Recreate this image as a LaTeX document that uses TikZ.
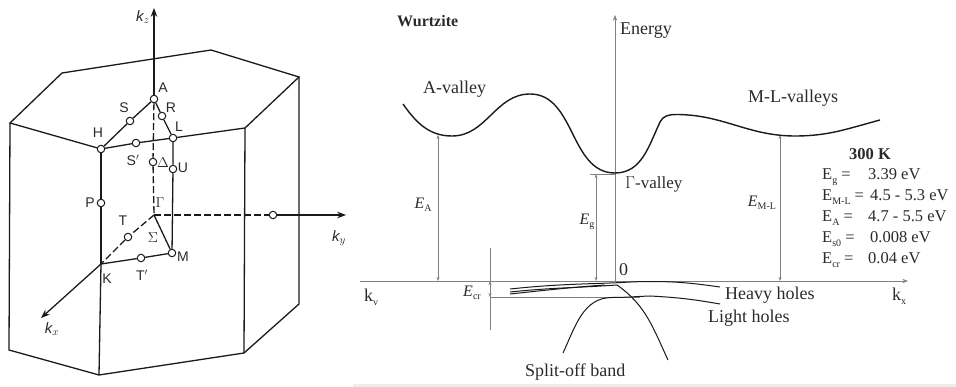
\documentclass[tikz,border=0pt]{standalone}
\usepackage{fontspec}
\setmainfont{Liberation Serif}
\newfontfamily\labelfont{Liberation Sans}
\usetikzlibrary{arrows.meta}
\definecolor{inkline}{HTML}{1A1A1A}
\definecolor{thinline}{HTML}{808080}
\definecolor{softtext}{HTML}{2A2A2A}
\definecolor{strip}{HTML}{EDEDED}
\newcommand{\low}[1]{\raisebox{-0.2em}{\upshape\fontsize{10}{10}\selectfont #1}}

\begin{document}
\begin{tikzpicture}[
    x=1pt,y=-1pt,
    edge/.style={draw=inkline,line width=1.3pt},
    axis/.style={edge,-Stealth},
    hidden/.style={edge,dashed,dash pattern=on 7pt off 3pt},
    pt/.style={circle,draw=inkline,line width=1pt,minimum size=7.5pt,inner sep=0pt},
    lab/.style={font=\labelfont\fontsize{14}{16}\selectfont,text=softtext,inner sep=0pt},
    klab/.style={font=\labelfont\itshape\fontsize{15}{17}\selectfont,text=softtext,inner sep=0pt},
    txt/.style={font=\fontsize{18}{20}\selectfont,text=softtext,inner sep=0pt},
    gap/.style={font=\itshape\fontsize{16}{18}\selectfont,text=softtext,inner sep=0pt},
    vals/.style={font=\fontsize{16.5}{18}\selectfont,text=softtext,inner sep=0pt,anchor=base west},
    band/.style={draw=inkline,line width=1.4pt},
    vband/.style={draw=inkline,line width=1pt},
    thin/.style={draw=thinline,line width=0.6pt},
    dim/.style={thin,{Stealth[length=4pt,width=3pt]}-{Stealth[length=4pt,width=3pt]}}
  ]
    \useasboundingbox (0,0) rectangle (956,387);
    \fill[strip] (353,384) rectangle (956,387);

    % hexagonal prism
    \coordinate (t1) at (62,73);
    \coordinate (t2) at (211,50);
    \coordinate (t3) at (299,77);
    \coordinate (t4) at (245,128);
    \coordinate (t6) at (10,123);
    \coordinate (b1) at (9,350);
    \coordinate (b2) at (99,375);
    \coordinate (b3) at (244,353);
    \coordinate (b4) at (299,304);

    % symmetry points
    \node[pt] (A) at (154,99) {};
    \node[pt] (S) at (130,121) {};
    \node[pt] (R) at (162,116) {};
    \node[pt] (L) at (173,138) {};
    \node[pt] (H) at (101,149) {};
    \node[pt] (Sp) at (136,143) {};
    \node[pt] (D) at (153,162) {};
    \node[pt] (U) at (173,169) {};
    \node[pt] (P) at (101,203) {};
    \node[pt] (T) at (128,237) {};
    \node[pt] (Tp) at (141,258) {};
    \node[pt] (M) at (172,253) {};
    \node[pt] (Y) at (273,215) {};
    \coordinate (G) at (154,215);
    \coordinate (K) at (101,264);
    \coordinate (kzend) at (154,8);
    \coordinate (kyend) at (346,215);
    \coordinate (kxend) at (41,318);

    \draw[edge] (H) -- (t6) -- (t1) -- (t2) -- (t3) -- (t4) -- (L);
    \draw[edge] (t6) -- (b1) -- (b2) -- (b3) -- (b4) -- (t3);
    \draw[edge] (t4) -- (b3);
    \draw[edge] (K) -- (b2);
    \draw[edge] (H) -- (P) -- (K);
    \draw[edge] (H) -- (S) -- (A) -- (R) -- (L) -- (U) -- (M);
    \draw[edge] (H) -- (Sp) -- (L);
    \draw[edge] (K) -- (Tp) -- (M) -- (G);
    \draw[hidden] (A) -- (D) -- (G);
    \draw[hidden] (G) -- (T) -- (K);
    \draw[hidden] (G) -- (Y);
    \draw[axis] (A) -- (kzend);
    \draw[axis] (Y) -- (kyend);
    \draw[axis] (K) -- (kxend);

    \node[klab] (kzlab) at (143,17) {k$_{z}$};
    \node[klab] (kylab) at (339,238) {k$_{y}$};
    \node[klab] (kxlab) at (52,329) {k$_{x}$};
    \node[lab] (Alab) at (163,88) {A};
    \node[lab] (Slab) at (124,108) {S};
    \node[lab] (Rlab) at (171,108) {R};
    \node[lab] (Llab) at (179,127) {L};
    \node[lab] (Hlab) at (98,133) {H};
    \node[lab] (Splab) at (133,160) {S$'$};
    \node[lab] (Dlab) at (163,163) {$\Delta$};
    \node[lab] (Ulab) at (183,168) {U};
    \node[lab] (Plab) at (90,203) {P};
    \node[lab] (Glab) at (160,203) {$\Gamma$};
    \node[lab] (Tlab) at (123,221) {T};
    \node[lab] (Xlab) at (153,238) {$\Sigma$};
    \node[lab] (Mlab) at (183,257) {M};
    \node[lab] (Klab) at (107,279) {K};
    \node[lab] (Tplab) at (142,275) {T$'$};

    % band diagram
    \coordinate (Amin) at (438,135);
    \coordinate (Gmin) at (596,174);
    \coordinate (Mmin) at (780,135);
    \coordinate (Abase) at (438,281);
    \coordinate (Gbase) at (596,281);
    \coordinate (Mbase) at (780,281);
    \coordinate (Gtick) at (590,174);
    \coordinate (Gzero) at (615,174);
    \coordinate (crtop) at (490,248);
    \coordinate (crbot) at (490,330);
    \coordinate (crup) at (490,281);
    \coordinate (crlow) at (490,297);
    \coordinate (crend) at (640,297);
    \coordinate (axl) at (360,281);
    \coordinate (axr) at (908,281);
    \coordinate (ent) at (615,281);
    \coordinate (enb) at (615,15);

    \draw[thin,-Stealth] (axl) -- (axr);
    \draw[thin,-Stealth] (ent) -- (enb);
    \draw[dim] (Amin) -- (Abase);
    \draw[dim] (Gmin) -- (Gbase);
    \draw[dim] (Mmin) -- (Mbase);
    \draw[thin] (Gtick) -- (Gzero);
    \draw[thin] (crtop) -- (crbot);
    \draw[thin] (crlow) -- (crend);
    \draw[dim] (crup) -- (crlow);

    \draw[band] (403,104) to[out=-55,in=180] (452,136) to[out=0,in=180] (530,94)
      to[out=0,in=180] (615,173) to[out=0,in=-115] (660,122) to[out=65,in=180] (676,114.5)
      to[out=0,in=180] (795,136) to[out=0,in=195] (880,120);
    % valence bands
    \draw[vband] (510,289) to[out=6,in=182] (610,283) to[out=2,in=180] (650,281.5) to[out=0,in=172] (720,287);
    \draw[vband] (510,292) to[out=6,in=184] (617,285) to[out=-35,in=115] (668,360);
    \draw[vband] (510,294) to[out=6,in=184] (605,285);
    \draw[vband] (563,353) to[out=65,in=180] (612,297.5) to[out=0,in=182] (650,296) to[out=-3,in=170] (720,304);

    \node[anchor=base west,font=\bfseries\fontsize{16}{18}\selectfont,text=softtext,inner sep=0pt] (wz) at (397,27) {Wurtzite};
    \node[txt,anchor=base west] (energy) at (620,35) {Energy};
    \node[txt,anchor=base west] (avalley) at (423,94) {A-valley};
    \node[txt,anchor=base west] (mlvalley) at (748,103) {M-L-valleys};
    \node[txt,anchor=base west,font=\fontsize{17}{19}\selectfont] (gvalley) at (625,189) {$\Gamma$-valley};
    \node[txt,anchor=base west] (zero) at (619,276) {0};
    \node[txt,anchor=base west] (heavy) at (725,300) {Heavy holes};
    \node[txt,anchor=base west] (light) at (708,323) {Light holes};
    \node[txt,anchor=base west] (splitoff) at (525,376) {Split-off band};
    \node[txt,anchor=base west] (kleft) at (364,302) {k\low{v}};
    \node[txt,anchor=base west] (kright) at (892,301) {k\low{x}};
    \node[gap] (EAlab) at (423,205) {E\low{A}};
    \node[gap] (Eglab) at (587,222) {E\low{g}};
    \node[gap] (EMLlab) at (762,203) {E\low{M-L}};
    \node[gap] (Ecrlab) at (472,293) {E\low{cr}};

    % values at 300 K
    \node[anchor=base,font=\bfseries\fontsize{16.5}{18}\selectfont,text=softtext,inner sep=0pt] (temp) at (870,160) {300 K};
    \node[vals] (r1a) at (822,180) {E\low{g} =};
    \node[vals] (r1b) at (868,180) {3.39 eV};
    \node[vals] (r2a) at (822,201) {E\low{M-L} =};
    \node[vals] (r2b) at (870,201) {4.5 - 5.3 eV};
    \node[vals] (r3a) at (822,222) {E\low{A} =};
    \node[vals] (r3b) at (868,222) {4.7 - 5.5 eV};
    \node[vals] (r4a) at (822,243) {E\low{s0} =};
    \node[vals] (r4b) at (870,243) {0.008 eV};
    \node[vals] (r5a) at (822,264) {E\low{cr} =};
    \node[vals] (r5b) at (868,264) {0.04 eV};
\end{tikzpicture}
\end{document}
